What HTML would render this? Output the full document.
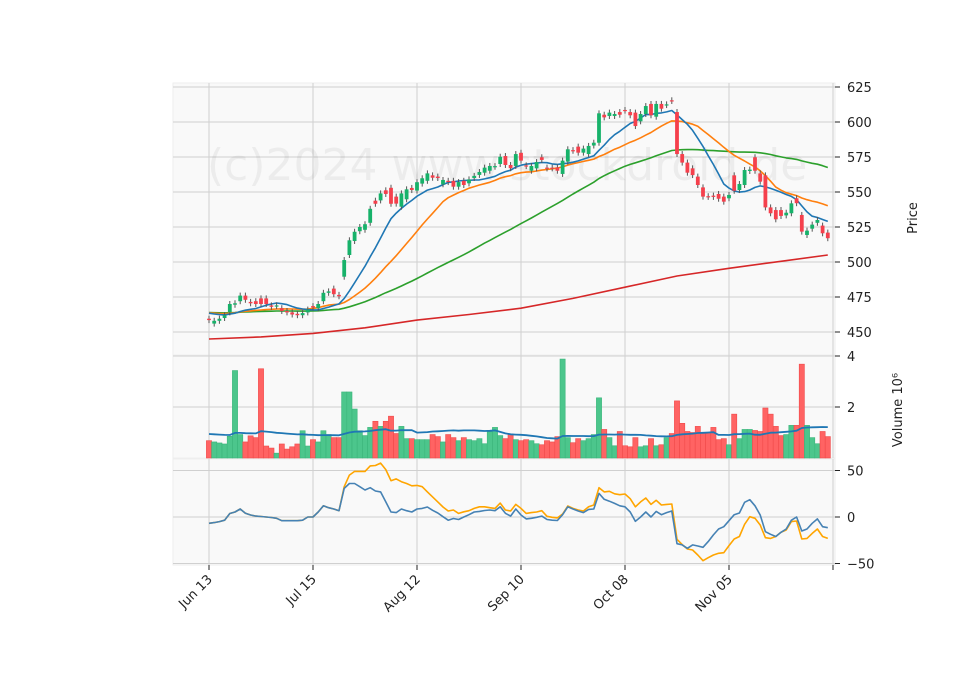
<!DOCTYPE html>
<html><head><meta charset="utf-8"><style>
body{margin:0;background:#fff;}
svg text{font-family:"DejaVu Sans","Liberation Sans",sans-serif;font-size:13px;fill:#222;}
</style></head><body>
<svg id="chart" width="960" height="690" viewBox="0 0 960 690" xmlns="http://www.w3.org/2000/svg">
<rect x="0" y="0" width="960" height="690" fill="#fff"/>
<g id="bg"></g><g id="grid"></g>
<text x="207" y="180" style="font-size:44px;fill:rgba(0,0,0,0.05)">(c)2024 www.stockdroid.de</text>
<g id="marks"></g><g id="axes"></g>
</svg>
<script>
const dates=["Jun 13","Jul 15","Aug 12","Sep 10","Oct 08","Nov 05",""];
const dateIdx=[0,20,40,60,80,100,120];
const priceTicks=[450,475,500,525,550,575,600,625];
const volTicks=[2,4];
const indTicks=[-50,0,50];
const opens=[459.5,456,458,460,464,469.5,472,476,471.5,472,474,474,469,468.5,467,465,464,463,462,464,468.5,467,472,478,481,476.5,489.5,505,515,522,523,528,543.8,544,551.2,553,546.7,539.5,544.8,552.9,551,556,558,561.9,561,555.5,558,558,553.8,558,556.2,560,562.2,563.8,565.2,568,570,575.7,569.3,568.6,578,569,565.2,566.9,574.8,567.4,567.4,567.6,562.9,571.7,579.9,582.4,578.1,577.1,583.2,585.2,605.2,604.3,604.3,607.1,608.6,607.1,606.7,600.5,605.7,612.9,603.8,612.9,612.1,615.5,607.1,577.1,571,566.9,561,553.3,547,547.4,548.6,546.7,545.5,561.9,551.4,555,565,574.8,563.3,561.9,539,537.1,537.1,533.3,534.8,545.5,533.6,519.3,523.8,528,526,521];
const closes=[458.5,458,459.5,462,470,470.5,476,473,470.5,470,470,470,468,469,465,464,462.5,462,463.5,466,467.5,470,478,479,477,475.5,501.4,515.5,521.6,525,527,538,541.6,549,548.6,541.6,541.7,549,551.9,551.4,557,559.8,563.3,560.2,560,558.6,557.1,553.8,557.1,555,559,561.5,564.3,567.4,568.6,568.5,575.2,569.3,567,577.1,572.4,568.5,568.6,571.4,572.9,566.9,566.9,565.2,572.4,580.5,579.5,578.1,581,582.9,585.2,606.2,603.3,606.7,605.7,605.2,608.1,604.8,597.1,605.7,611.4,604.8,612.9,609.5,612.6,615,577.1,571,563.8,562.1,555,546.7,546.5,546.5,545.2,543.1,547.9,550.9,555.7,565.7,566,565.2,557.4,539,534.8,530.5,532.9,535.2,541.9,542,521.7,522.4,526.7,530,520.5,517];
const volumes=[0.68,0.63,0.59,0.55,0.85,3.43,0.92,0.63,0.87,0.8,3.5,0.47,0.39,0.19,0.55,0.35,0.44,0.55,1.07,0.47,0.72,0.63,1.07,0.92,0.8,0.8,2.59,2.59,1.92,1.07,0.88,1.2,1.44,1.24,1.44,1.64,0.96,1.24,0.76,0.76,0.72,0.72,0.72,0.92,0.84,0.63,0.92,0.8,0.68,0.8,0.72,0.68,0.76,0.56,1.03,1.2,0.88,0.76,0.92,0.72,0.68,0.72,0.68,0.56,0.52,0.68,0.63,0.84,3.88,0.8,0.6,0.76,0.68,0.76,0.92,2.36,1.12,0.8,0.48,1.04,0.48,0.44,0.8,0.44,0.48,0.76,0.48,0.52,0.8,0.96,2.24,1.36,1.04,1.0,1.24,0.96,0.96,1.2,0.72,0.76,0.52,1.72,0.76,1.12,1.12,1.08,1.04,1.96,1.72,1.24,0.88,0.92,1.28,1.28,3.68,1.28,0.8,0.56,1.04,0.84];
const indBlue=[-6.8,-6,-5,-3.4,3.8,5.4,8.6,4,2.2,1,0.5,0,-0.5,-1.4,-4,-4,-4,-4,-3.4,0,0,5.4,12,10,8.6,6.8,30.8,36,36,32.6,29,31.5,28,27,16.2,5.4,4.7,8.6,6.8,5.4,8.6,9.3,10.7,7.2,4.3,0.3,-3.4,-1.6,-2.7,0,2.5,5.4,6,7,7.5,6.8,11,4,1,8.6,2.2,-2,-1.4,-0.3,1,-2.7,-3.4,-3.8,2.5,11,8.6,6.4,4.7,8.2,8.6,25.4,19,17,14.6,12,11,5.4,-4.6,0,5.4,0,6,2.5,4.7,6.4,-28.7,-30,-33.7,-30,-31.2,-32.6,-26.5,-19.3,-12.9,-10.4,-4,2.5,4.3,15.8,18.6,12,2.2,-15.8,-18.6,-21,-16.5,-12.9,-3.4,0,-15,-12.9,-6.8,-2,-10.4,-11.5];
const indOrange=[-6.8,-6,-5,-3.4,3.8,5.4,8.6,4,2.2,1,0.5,0,-0.5,-1.4,-4,-4,-4,-4,-3.4,0,0,5.4,12,10,8.6,6.8,32.6,45,49,49,49,55,55.4,58,51,39,41,38,36,33.6,34,32.6,27,21.6,16.2,10.7,6.4,7.5,3.9,5.6,6.8,9.3,11,11,10,9.3,15,7.5,6.4,13.6,9.3,3.9,4.7,5.4,6.8,0.7,-0.3,-1,3.2,11.8,9.3,7.5,6.4,11,12.9,31.5,27,27.6,25,24,24.7,19.7,11,16.2,20.4,13.6,18,12.9,13.6,14,-24,-29.7,-34.4,-35.5,-40.9,-47,-43.8,-40.9,-39,-38.4,-30.8,-23.7,-21,-7.9,0.3,-1.4,-8.6,-22.3,-23,-21,-16.5,-14,-5,-4.3,-23.7,-23,-17.6,-12.9,-21,-23];
const ma200Idx=[0,10,20,30,40,50,60,70,80,90,100,110,119];
const ma200Val=[445,446.5,449,453,458.5,462.5,467,474,482,490,495.5,500.5,505];
const historyLevel=464;
const volHistoryLevel=0.95;

const NS="http://www.w3.org/2000/svg";
function mk(tag,attrs,parent){const e=document.createElementNS(NS,tag);for(const k in attrs)e.setAttribute(k,attrs[k]);(parent||document.getElementById('marks')).appendChild(e);return e;}
const X0=173,X1=835;
function xOf(i){return 209+5.2*i;}
function yP(p){return 87+(625-p)*1.4;}
function yV(v){return 458-v*25.5;}
function yI(v){return 517-v*0.93;}

const bg=document.getElementById('bg'),grid=document.getElementById('grid'),axes=document.getElementById('axes');
let r=mk('rect',{x:X0,y:83,width:X1-X0,height:272,fill:'#f9f9f9',stroke:'#eee'},bg);

r=mk('rect',{x:X0,y:355,width:X1-X0,height:103,fill:'#f9f9f9',stroke:'#eee'},bg);

r=mk('rect',{x:X0,y:459,width:X1-X0,height:106,fill:'#f9f9f9',stroke:'#eee'},bg);


dateIdx.forEach((d,k)=>{const x=xOf(d);
 [[83,355],[355,458],[459,565]].forEach(s=>mk('line',{x1:x,x2:x,y1:s[0],y2:s[1],stroke:'#d0d0d0','stroke-width':1},grid));
 mk('line',{x1:x,x2:x,y1:565,y2:570,stroke:'#222'},axes);
 if(dates[k]){const t=mk('text',{x:x+4,y:580,'text-anchor':'end',transform:`rotate(-45 ${x+4} 580)`},axes);t.textContent=dates[k];
 }
});
priceTicks.forEach(p=>{const y=yP(p);mk('line',{x1:X0,x2:X1,y1:y,y2:y,stroke:'#d0d0d0'},grid);
 mk('line',{x1:X1,x2:X1+5,y1:y,y2:y,stroke:'#222'},axes);
 const t=mk('text',{x:X1+12,y:y+5},axes);t.textContent=p;
 });
volTicks.forEach(v=>{const y=yV(v);mk('line',{x1:X0,x2:X1,y1:y,y2:y,stroke:'#d0d0d0'},grid);
 mk('line',{x1:X1,x2:X1+5,y1:y,y2:y,stroke:'#222'},axes);
 const t=mk('text',{x:X1+12,y:y+5},axes);t.textContent=v;
 });
indTicks.forEach(v=>{const y=yI(v);mk('line',{x1:X0,x2:X1,y1:y,y2:y,stroke:'#d0d0d0'},grid);
 mk('line',{x1:X1,x2:X1+5,y1:y,y2:y,stroke:'#222'},axes);
 const t=mk('text',{x:X1+12,y:y+5},axes);t.textContent=(v<0?'\u2212'+(-v):v);
 });
let t=mk('text',{x:917,y:218,'text-anchor':'middle',transform:'rotate(-90 917 218)'},axes);t.textContent='Price';

t=mk('text',{x:902,y:410,'text-anchor':'middle',transform:'rotate(-90 902 410)'},axes);t.textContent='Volume  10\u2076';


volumes.forEach((v,i)=>{const up=closes[i]>=opens[i];const b=mk('rect',{x:xOf(i)-2.6,y:yV(v),width:5.2,height:v*25.5,fill:up?'#4cc68c':'#ff6363',stroke:up?'#3bb57b':'#f04a4a','stroke-width':0.6});
 });
function line(vals,xf,yf,color,name,w){const pts=vals.map((v,i)=>`${xf(i).toFixed(1)},${yf(v).toFixed(1)}`).join(' ');
 const l=mk('polyline',{points:pts,fill:'none',stroke:color,'stroke-width':w||1.6,'stroke-linejoin':'round'});
 }
const vhist=new Array(30).fill(volHistoryLevel).concat(volumes);
const volMA=volumes.map((v,i)=>{const s=vhist.slice(i+1,i+31);return s.reduce((a,b)=>a+b,0)/30;});
line(volMA,xOf,yV,'#1f77b4','volume-ma-line',1.8);

const hist=new Array(50).fill(historyLevel).concat(closes);
function sma(n){return closes.map((c,i)=>{const s=hist.slice(i+50-n+1,i+51);return s.reduce((a,b)=>a+b,0)/n;});}
const m200=mk('polyline',{points:ma200Idx.map((d,k)=>`${xOf(d)},${yP(ma200Val[k])}`).join(' '),fill:'none',stroke:'#d62728','stroke-width':1.6});

line(sma(50),xOf,yP,'#2ca02c','ma50-line');
line(sma(20),xOf,yP,'#ff7f0e','ma20-line');
line(sma(10),xOf,yP,'#1f77b4','ma10-line');

closes.forEach((c,i)=>{const o=opens[i],up=c>=o,x=xOf(i);
 const hi=Math.max(o,c),lo=Math.min(o,c);
 const w=mk('line',{x1:x,x2:x,y1:yP(hi)-3,y2:yP(lo)+3,stroke:'#555','stroke-width':1});
 
 const h=Math.max(1.2,yP(lo)-yP(hi));
 const b=mk('rect',{x:x-1.9,y:yP(hi),width:3.8,height:h,fill:up?'#17b26a':'#f5404c'});
 });

line(indOrange,xOf,yI,'#ffa500','indicator-signal-line');
line(indBlue,xOf,yI,'#4682b4','indicator-main-line');
</script>
</body></html>
